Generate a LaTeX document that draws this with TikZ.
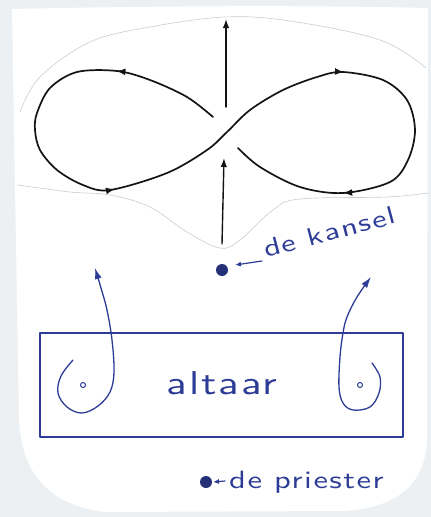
\documentclass[tikz,border=0pt]{standalone}
\usepackage{fontspec}
\usetikzlibrary{arrows.meta,decorations.markings}
\newfontfamily\handfont[FakeStretch=1.3,LetterSpace=6]{lmsans10-regular.otf}
\definecolor{skbg}{HTML}{EDF0F2}
\definecolor{skedge}{HTML}{C9CDD1}
\definecolor{skink}{HTML}{141414}
\definecolor{skblue}{HTML}{2D3C96}

\begin{document}
\begin{tikzpicture}[x=1pt, y=-1pt, line join=round, line cap=round,
    loopline/.style={draw=skink, line width=1.7pt},
    riseline/.style={draw=skink, line width=1.4pt, -{Latex[length=9pt, width=6.5pt]}},
    walkline/.style={draw=skblue, line width=1.3pt, -{Latex[length=11pt, width=7pt]}},
    pointer/.style={draw=skblue, line width=1.2pt, -{Latex[length=6pt, width=5pt]}},
    cutline/.style={draw=skedge, line width=0.6pt},
    spot/.style={circle, fill=skblue!80!black, draw=none, inner sep=0pt, minimum size=12pt},
    stand/.style={circle, draw=skblue, line width=1pt, fill=white, inner sep=0pt, minimum size=5pt},
    hand/.style={text=skblue, inner sep=0pt, font=\handfont\fontsize{25}{27}\selectfont},
  ]
  % sheet on the table
  \fill[skbg] (0,0) rectangle (431,517);
  \useasboundingbox (0,0) rectangle (431,517);
  \fill[white] (12,9) .. controls (150,6) and (300,5) .. (428,8) -- (427,440)
    .. controls (425,482) and (400,507) .. (345,511) -- (105,512)
    .. controls (50,505) and (22,475) .. (19,420) -- cycle;

  % pasted piece with the figure eight
  \draw[cutline] plot[smooth, tension=0.6] coordinates {(20,112) (40,77) (90,42) (150,27) (225,17) (290,21) (380,40) (426,68)};
  \draw[cutline] plot[smooth, tension=0.6] coordinates {(18,185) (70,192) (110,195) (150,207) (187,232) (220,248) (240,240) (273,210) (300,199) (387,197) (428,193)};

  % figure eight, one stroke
  \draw[loopline, postaction=decorate, decoration={markings,
      mark=at position 0.117 with {\arrow{Latex[length=9pt, width=7pt]}},
      mark=at position 0.362 with {\arrow{Latex[length=9pt, width=7pt]}},
      mark=at position 0.645 with {\arrow{Latex[length=9pt, width=7pt]}},
      mark=at position 0.873 with {\arrow{Latex[length=9pt, width=7pt]}}}]
    plot[smooth, tension=0.55] coordinates {(213,117) (187,97) (150,80) (117,71) (77,72) (50,88) (37,113) (35,130) (40,150) (57,170) (83,185) (110,190) (167,173) (207,150) (227,132) (250,110) (283,90) (317,77) (343,72) (383,80) (407,100) (415,130) (408,160) (390,182) (343,193) (300,187) (260,167) (238,148)};

  % straight up through the middle
  \coordinate (risefoot) at (222,244);
  \coordinate (risetop) at (224,158);
  \coordinate (exitfoot) at (226,107);
  \coordinate (exittop) at (226,19);
  \draw[riseline] (risefoot) -- (risetop);
  \draw[riseline] (exitfoot) -- (exittop);

  % de kansel
  \node[spot] (kansel) at (222,270) {};
  \node[hand, rotate=15, anchor=base west] (kanseltxt) at (266,258) {de kansel};
  \draw[pointer] (262,261) -- (235,265);

  % altaar
  \node[draw=skblue, line width=1.2pt, minimum width=363pt, minimum height=104pt, inner sep=0pt] (altaar) at (221.5,385) {};
  \node[hand, anchor=base, font=\handfont\fontsize{33}{35}\selectfont] (altaartxt) at (222,394) {altaar};

  % the two places at the altar and the walk away from them
  \node[stand] (leftstand) at (83,385) {};
  \node[stand] (rightstand) at (360,385) {};
  \draw[walkline] plot[smooth, tension=0.6] coordinates {(73,360) (61,376) (58,393) (67,407) (82,413) (98,406) (110,392) (114,372) (112,340) (107,310) (101,288) (95,268)};
  \draw[walkline] plot[smooth, tension=0.6] coordinates {(372,363) (380,377) (379,393) (370,407) (353,410) (343,403) (339,387) (340,357) (343,333) (347,317) (357,297) (371,277)};

  % de priester
  \node[spot] (priester) at (206,482) {};
  \node[hand, anchor=base west] (priestertxt) at (229,488) {de priester};
  \draw[pointer] (225,481) -- (213,482);
\end{tikzpicture}
\end{document}
